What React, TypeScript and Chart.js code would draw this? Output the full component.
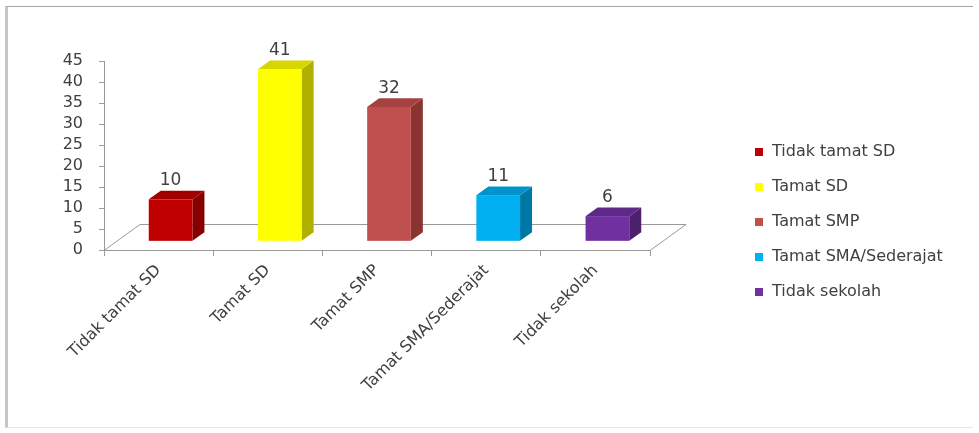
import React, { useEffect, useRef } from "react";
import { Chart, registerables } from "chart.js";

Chart.register(...registerables);

const categories = ["Tidak tamat SD", "Tamat SD", "Tamat SMP", "Tamat SMA/Sederajat", "Tidak sekolah"];
const values = [10, 41, 32, 11, 6];
const frontColors = ["#C00000", "#FFFF00", "#C0504D", "#00B0F0", "#7030A0"];
const sideColors = ["#860000", "#B0B000", "#8A3431", "#0078A6", "#4C206E"];
const topColors = ["#A20000", "#D6D600", "#A5423F", "#0094CA", "#5D2888"];
const yMin = 0;
const yMax = 45;
const yStep = 5;

const FONT = "'DejaVu Sans', sans-serif";
const TEXT = "#404040";
const LINE = "#9a9a9a";
const DEPTH_X = 36;
const DEPTH_Y = -26;

const bar3d = {
  id: "bar3d",
  beforeDatasetsDraw(chart: any) {
    const { ctx, chartArea } = chart;
    const { left, right, bottom } = chartArea;
    ctx.save();
    ctx.beginPath();
    ctx.moveTo(left, bottom + 0.5);
    ctx.lineTo(left + DEPTH_X, bottom + DEPTH_Y + 0.5);
    ctx.lineTo(right + DEPTH_X, bottom + DEPTH_Y + 0.5);
    ctx.lineTo(right, bottom + 0.5);
    ctx.strokeStyle = LINE;
    ctx.lineWidth = 1;
    ctx.stroke();
    ctx.restore();
  },
  afterDatasetsDraw(chart: any) {
    const { ctx } = chart;
    const meta = chart.getDatasetMeta(0);
    const dx = DEPTH_X / 3;
    const dy = DEPTH_Y / 3;
    ctx.save();
    meta.data.forEach((el: any, i: number) => {
      const { x, y, base, width } = el.getProps(["x", "y", "base", "width"], true);
      const fl = x - width / 2 + dx;
      const fr = x + width / 2 + dx;
      const ft = y + dy;
      const fb = base + dy;
      ctx.fillStyle = sideColors[i];
      ctx.beginPath();
      ctx.moveTo(fr, ft);
      ctx.lineTo(fr + dx, ft + dy);
      ctx.lineTo(fr + dx, fb + dy);
      ctx.lineTo(fr, fb);
      ctx.closePath();
      ctx.fill();
      ctx.fillStyle = topColors[i];
      ctx.beginPath();
      ctx.moveTo(fl, ft);
      ctx.lineTo(fl + dx, ft + dy);
      ctx.lineTo(fr + dx, ft + dy);
      ctx.lineTo(fr, ft);
      ctx.closePath();
      ctx.fill();
      ctx.fillStyle = frontColors[i];
      ctx.fillRect(fl, ft, fr - fl, fb - ft);
      ctx.fillStyle = TEXT;
      ctx.font = `17px ${FONT}`;
      ctx.textAlign = "center";
      ctx.textBaseline = "middle";
      ctx.fillText(String(values[i]), (fl + fr) / 2, ft + dy - 10);
    });
    ctx.restore();
  },
};

const legendPlugin = {
  id: "customLegend",
  afterDraw(chart: any) {
    const { ctx, chartArea } = chart;
    const x0 = chartArea.right + 105;
    const y0 = chartArea.top + 91;
    const pitch = 35;
    ctx.save();
    ctx.font = `16px ${FONT}`;
    ctx.textAlign = "left";
    ctx.textBaseline = "middle";
    categories.forEach((c, i) => {
      const cy = y0 + i * pitch;
      ctx.fillStyle = frontColors[i];
      ctx.fillRect(x0, cy - 4, 8, 8);
      ctx.fillStyle = TEXT;
      ctx.fillText(c, x0 + 17, cy);
    });
    ctx.restore();
  },
};

export default function App() {
  const canvasRef = useRef<HTMLCanvasElement | null>(null);

  useEffect(() => {
    if (!canvasRef.current) return;
    const chart = new Chart(canvasRef.current, {
      type: "bar",
      data: {
        labels: categories,
        datasets: [
          {
            data: values,
            backgroundColor: "rgba(0,0,0,0)",
            borderWidth: 0,
            categoryPercentage: 1,
            barPercentage: 0.4,
          },
        ],
      },
      options: {
        animation: false,
        responsive: true,
        maintainAspectRatio: false,
        layout: { padding: { left: 0, top: 54, right: 323, bottom: 0 } },
        plugins: {
          legend: { display: false },
          tooltip: { enabled: false },
        },
        scales: {
          x: {
            grid: {
              display: true,
              drawOnChartArea: false,
              drawTicks: true,
              tickLength: 6,
              color: LINE,
              offset: true,
            },
            border: { display: true, color: LINE },
            ticks: {
              color: TEXT,
              font: { family: FONT, size: 16 },
              minRotation: 45,
              maxRotation: 45,
              autoSkip: false,
              padding: 5,
            },
            afterFit: (s: any) => {
              s.height = 177;
            },
          },
          y: {
            min: yMin,
            max: yMax,
            ticks: {
              stepSize: yStep,
              color: TEXT,
              font: { family: FONT, size: 16, lineHeight: 1 },
              padding: 16,
              autoSkip: false,
              maxTicksLimit: 20,
            },
            grid: { drawOnChartArea: false, tickLength: 5, color: LINE },
            border: { display: true, color: LINE },
            afterFit: (s: any) => {
              s.width = 96;
            },
          },
        },
      },
      plugins: [bar3d, legendPlugin],
    });
    return () => chart.destroy();
  }, []);

  return (
    <div
      style={{
        position: "absolute",
        left: 5,
        top: 6,
        width: 965,
        height: 420,
        borderLeft: "3px solid #c6c6c6",
        borderTop: "1px solid #a4a4a4",
        borderBottom: "1px solid #e6e6e6",
        background: "#ffffff",
      }}
    >
      <div style={{ position: "relative", width: 965, height: 420 }}>
        <canvas ref={canvasRef} />
      </div>
    </div>
  );
}
